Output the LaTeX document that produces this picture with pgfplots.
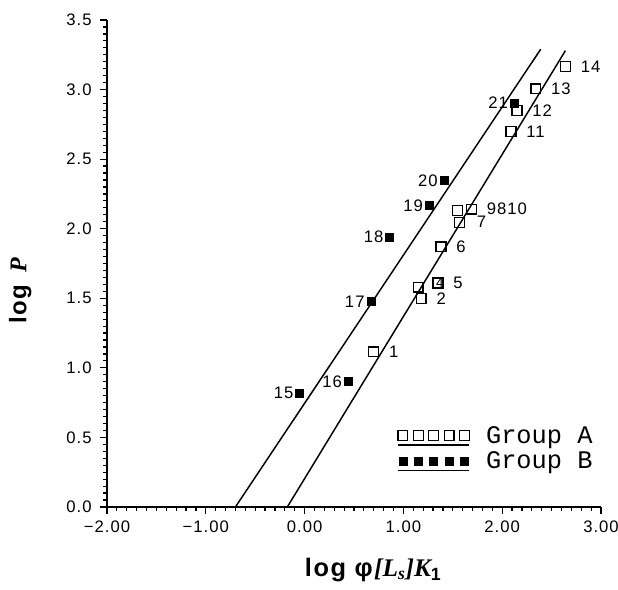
\documentclass[border=0pt]{standalone}
\usepackage{fontspec}
\setmainfont{Liberation Sans}
\newfontfamily\serif{Liberation Serif}
\newfontfamily\ticks[LetterSpace=6]{Liberation Sans}
\newfontfamily\lab[LetterSpace=6]{Liberation Sans}
\setmonofont{Liberation Mono}
\usepackage{pgfplots}
\usepackage{pgfplotstable}
\pgfplotsset{compat=1.18}
\pgfplotsset{
  fiveleg/.style={legend image code/.code={
    \draw[##1, only marks] plot coordinates {(0pt,0pt) (11.6pt,0pt) (23.2pt,0pt) (34.8pt,0pt) (46.4pt,0pt)};
    \draw[black, line width=0.9pt] (-3.7pt,-7pt) -- (50pt,-7pt);
  }},
}

% group A: open squares, group B: filled squares
\pgfplotstableread{
x y lbl
0.70 1.115 1
1.18 1.50 2
1.15 1.58 {}
1.35 1.61 5
1.35 1.61 {}
1.38 1.87 6
1.57 2.045 {}
1.55 2.13 {}
1.69 2.14 9810
1.69 2.14 {}
2.09 2.70 11
2.15 2.85 12
2.34 3.005 13
2.64 3.165 14
}\groupA
\pgfplotstableread{
x y lbl
-0.05 0.82 15
0.44 0.90 16
0.67 1.477 17
0.86 1.94 18
1.26 2.165 19
1.41 2.345 20
2.12 2.905 21
}\groupB

\begin{document}
\begin{tikzpicture}
\begin{axis}[
  name=ax,
  scale only axis, width=370.5pt, height=365.25pt,
  xmin=-2, xmax=3, ymin=0, ymax=3.5,
  axis x line*=bottom, axis y line*=left,
  axis line style={-, line width=1.3pt},
  xtick={-2,-1,0,1,2,3},
  xticklabels={−2.00,−1.00,0.00,1.00,2.00,3.00},
  ytick={0,0.5,...,3.5},
  /pgf/number format/assume math mode=true,
  minor x tick num=9, minor y tick num=9,
  tick align=outside,
  major tick length=5pt, minor tick length=3pt,
  tick style={black, line width=0.9pt},
  tick label style={font=\ticks\fontsize{12.5}{13}\selectfont},
  xticklabel style={yshift=-2pt},
  yticklabel style={xshift=-3pt, /pgf/number format/.cd, fixed, fixed zerofill, precision=1},
  xlabel={\textbf{\lab log φ}{\serif\bfseries\itshape [L\textsubscript{s}]K}\textsubscript{\textbf{\lab 1}}},
  ylabel={\textbf{\lab log}\hspace{0.45em}{\serif\bfseries\itshape P}},
  every axis x label/.style={at={(axis description cs:0.54,0)}, yshift=-47pt, anchor=center,
    font=\fontsize{19}{21}\selectfont},
  every axis y label/.style={at={(axis description cs:0,0.444)}, xshift=-65pt, rotate=90, anchor=center,
    font=\fontsize{18}{20}\selectfont},
  clip=false,
  legend style={draw=none, fill=none, at={(axis description cs:0.579,0.172)}, anchor=north west,
    font=\ttfamily\fontsize{19}{19}\selectfont, row sep=4.5pt, column sep=12pt,
    nodes={inner sep=0pt}},
  legend cell align=left,
]
% fitted lines
\addplot[black, line width=1.1pt, forget plot] coordinates {(-0.175,0) (2.64,3.28)};
\addplot[black, line width=1.1pt, forget plot] coordinates {(-0.70,0) (2.39,3.29)};

\addplot[only marks, mark=square, mark size=3.7pt, mark options={line width=1pt},
  point meta=explicit symbolic, nodes near coords,
  every node near coord/.style={anchor=west, xshift=11pt, inner sep=0pt, font=\ticks\fontsize{12.5}{13}\selectfont},
  fiveleg] table[x=x, y=y, meta=lbl] {\groupA};
\addlegendentry{Group A}

\addplot[only marks, mark=square*, mark size=3pt, mark options={fill=black},
  point meta=explicit symbolic, nodes near coords,
  every node near coord/.style={anchor=east, xshift=-4.5pt, inner sep=0pt, font=\ticks\fontsize{12.5}{13}\selectfont},
  fiveleg] table[x=x, y=y, meta=lbl] {\groupB};
\addlegendentry{Group B}

\node[font=\ticks\fontsize{12.5}{13}\selectfont, inner sep=0pt] at (axis cs:1.79,2.05) {7};
\node[font=\fontsize{10}{12}\selectfont, inner sep=0pt] at (axis cs:1.37,1.61) {4};
\end{axis}
\pgfresetboundingbox
\path ([xshift=-80.25pt,yshift=-62.25pt]ax.south west) rectangle ([xshift=12.75pt,yshift=15pt]ax.north east);
\end{tikzpicture}
\end{document}
